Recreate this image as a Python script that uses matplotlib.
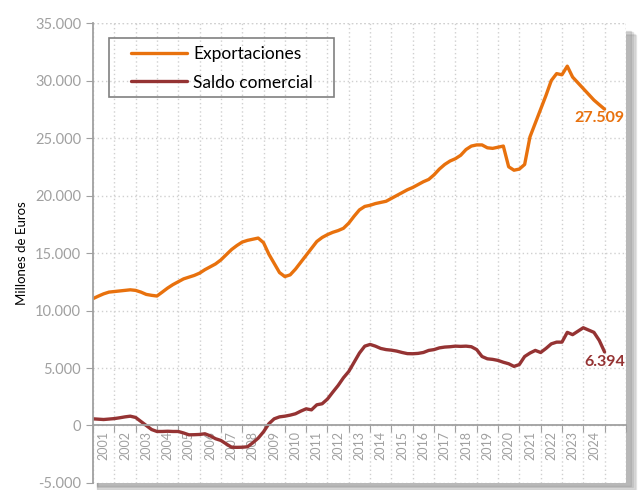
import numpy as np
import matplotlib
matplotlib.use("Agg")
import matplotlib.pyplot as plt
from matplotlib.patches import Rectangle
from matplotlib.ticker import FuncFormatter

plt.rcParams['font.family'] = ['Lato', 'DejaVu Sans']

# datos trimestrales (millones de euros), 2001T1 .. 2025T1
exportaciones = [
    11030, 11250, 11450, 11600,
    11650, 11700, 11750, 11800,
    11750, 11600, 11400, 11320,
    11260, 11600, 11950, 12250,
    12500, 12750, 12900, 13050,
    13250, 13550, 13800, 14050,
    14400, 14850, 15300, 15650,
    15950, 16100, 16200, 16300,
    15900, 14900, 14100, 13300,
    12950, 13100, 13600, 14200,
    14800, 15400, 16000, 16350,
    16600, 16800, 16950, 17150,
    17600, 18200, 18750, 19050,
    19150, 19300, 19400, 19500,
    19750, 20000, 20250, 20500,
    20700, 20950, 21200, 21400,
    21800, 22300, 22700, 23000,
    23200, 23500, 24000, 24300,
    24400, 24400, 24150, 24100,
    24200, 24300, 22500, 22200,
    22300, 22700, 25100, 26300,
    27500, 28700, 30000, 30600,
    30500, 31250, 30300, 29800,
    29300, 28800, 28300, 27900,
    27509,
]
saldo = [
    580, 550, 520, 560,
    600, 670, 750, 810,
    700, 350, 0, -350,
    -520, -520, -500, -520,
    -520, -650, -810, -800,
    -780, -720, -900, -1150,
    -1300, -1600, -1890, -1900,
    -1890, -1850, -1500, -1100,
    -550, 150, 580, 750,
    810, 900, 1020, 1250,
    1450, 1360, 1800, 1890,
    2300, 2900, 3480, 4150,
    4700, 5500, 6300, 6900,
    7050, 6900, 6700, 6600,
    6550, 6470, 6350, 6250,
    6240, 6270, 6350, 6530,
    6600, 6750, 6820, 6850,
    6900, 6880, 6900, 6850,
    6600, 6000, 5800, 5750,
    5660, 5500, 5370, 5140,
    5300, 6000, 6300, 6530,
    6350, 6700, 7100, 7250,
    7250, 8100, 7900, 8200,
    8500, 8300, 8100, 7400,
    6394,
]
años = list(range(2001, 2025))
t = 2001 + np.arange(len(exportaciones)) / 4.0

c_exp = '#E8710D'
c_sal = '#953333'
gris = '#A0A0A0'

fig = plt.figure(figsize=(6.39, 4.9), dpi=100)
ax = fig.add_axes([0.1455, 0.0143, 0.834, 0.9387])

# sombra del area de grafico
for i, a in enumerate([0.10, 0.10, 0.12, 0.14]):
    d = (4 - i) * 0.0025
    fig.patches.append(Rectangle((0.1455 + 0.006, 0.0143 - d - 0.004), 0.834 + d, 0.9387 - 0.01,
                                 transform=fig.transFigure, color='#505050', alpha=a, zorder=0))
ax.set_facecolor('white')
ax.set_zorder(1)

ax.plot(t, exportaciones, color=c_exp, lw=2.4, label='Exportaciones', solid_capstyle='round')
ax.plot(t, saldo, color=c_sal, lw=2.4, label='Saldo comercial', solid_capstyle='round')

ax.set_xlim(2001, 2026)
ax.set_ylim(-5000, 35000)
ax.set_yticks(np.arange(-5000, 35001, 5000))
ax.yaxis.set_major_formatter(FuncFormatter(lambda v, p: f'{int(v):,}'.replace(',', '.')))

ax.set_xticks(np.arange(2001, 2027))
ax.set_xticks(np.array(años) + 0.5, minor=True)
ax.set_xticklabels([])
ax.set_xticklabels([str(a) for a in años], minor=True)
ax.tick_params(axis='x', which='major', length=5, color=gris, direction='out')
ax.tick_params(axis='x', which='minor', length=0, labelcolor=gris, labelsize=9,
               pad=4, labelrotation=90)
ax.tick_params(axis='y', length=5, color=gris, labelcolor=gris, labelsize=10.5)

ax.spines['bottom'].set_position(('data', 0))
for s in ['top', 'right']:
    ax.spines[s].set_visible(False)
for s in ['left', 'bottom']:
    ax.spines[s].set_color(gris)
    ax.spines[s].set_linewidth(1.3)

ax.grid(True, which='major', color='#D0D0D0', linestyle=(0, (1, 2)), linewidth=1)
ax.axhline(35000, color='#D0D0D0', linestyle=(0, (1, 2)), linewidth=1)
ax.axvline(2026, color='#D0D0D0', linestyle=(0, (1, 2)), linewidth=1)
ax.set_axisbelow(True)

ax.set_ylabel('Millones de Euros', fontsize=9.5, labelpad=5)

ax.text(2024.78, 26700, f'{exportaciones[-1]:,}'.replace(',', '.'), color=c_exp,
        fontsize=11.5, fontweight='bold', ha='center', va='center')
ax.text(2025.0, 5480, f'{saldo[-1]:,}'.replace(',', '.'), color=c_sal,
        fontsize=11.5, fontweight='bold', ha='center', va='center')

# leyenda sin marco + marco dibujado aparte
leg = ax.legend(loc='upper left', bbox_to_anchor=(0.072, 0.950), fontsize=12.5,
                handlelength=3.2, frameon=False, borderpad=0,
                labelspacing=0.72, handletextpad=0.35, borderaxespad=0)
ax.add_patch(Rectangle((0.030, 0.839), 0.422, 0.128, transform=ax.transAxes,
                       facecolor='none', edgecolor='#808080', lw=1.2, zorder=5))

plt.savefig('out.png', dpi=100)
